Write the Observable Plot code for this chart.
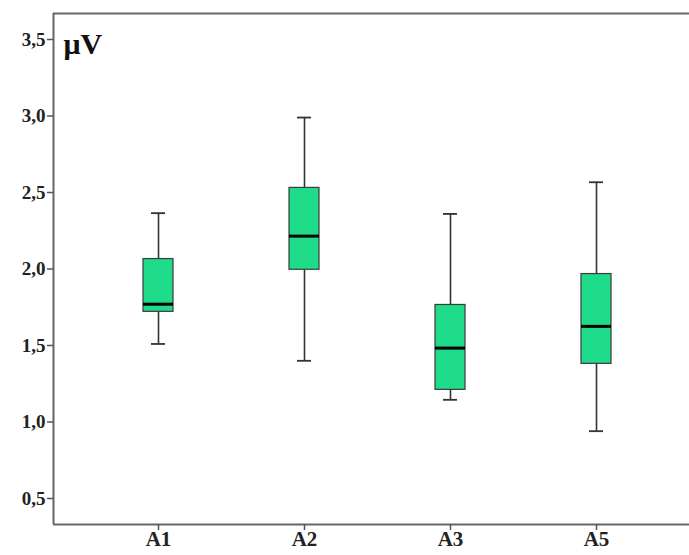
<!DOCTYPE html>
<html>
<head>
<meta charset="utf-8">
<script src="https://cdn.jsdelivr.net/npm/d3@7"></script>
<script src="https://cdn.jsdelivr.net/npm/@observablehq/plot@0.6"></script>
<style>
  html, body { margin: 0; padding: 0; background: #fff; overflow: hidden; }
  #chart svg { display: block; }
</style>
</head>
<body>
<div id="chart"></div>
<script>
const categories = ["A1", "A2", "A3", "A5"];
const whiskerLow = [1.51, 1.40, 1.145, 0.94];
const q1 = [1.72, 1.995, 1.21, 1.38];
const median = [1.77, 2.215, 1.483, 1.625];
const q3 = [2.065, 2.53, 1.765, 1.967];
const whiskerHigh = [2.365, 2.99, 2.36, 2.567];
const yTicks = [0.5, 1.0, 1.5, 2.0, 2.5, 3.0, 3.5];
const yDomain = [0.33, 3.67];
const unitLabel = "μV";

const rows = categories.map((c, i) => ({
  cat: c, lo: whiskerLow[i], q1: q1[i], med: median[i], q3: q3[i], hi: whiskerHigh[i]
}));

const fmt = d => d.toFixed(1).replace(".", ",");

const W = 689, ML = 53, MR = 30;

const chart = Plot.plot({
  width: W,
  height: 555,
  marginLeft: ML,
  marginRight: MR,
  marginTop: 13,
  marginBottom: 31,
  style: { fontFamily: "'Liberation Serif', serif", fontWeight: "bold", fontSize: "19px", color: "#222", background: "#fff" },
  x: { type: "band", domain: categories, range: [53, 701], paddingInner: 0.795, paddingOuter: 0.616, label: null },
  y: { domain: yDomain, label: null },
  marks: [
    Plot.ruleX(rows, { x: "cat", y1: "lo", y2: "q1", stroke: "#333", strokeWidth: 1.6 }),
    Plot.ruleX(rows, { x: "cat", y1: "q3", y2: "hi", stroke: "#333", strokeWidth: 1.6 }),
    Plot.tickY(rows, { x: "cat", y: "lo", stroke: "#333", strokeWidth: 1.8, inset: 8 }),
    Plot.tickY(rows, { x: "cat", y: "hi", stroke: "#333", strokeWidth: 1.8, inset: 8 }),
    Plot.barY(rows, { x: "cat", y1: "q1", y2: "q3", fill: "#1fdc8a", stroke: "#3a3a3a", strokeWidth: 1.2 }),
    Plot.tickY(rows, { x: "cat", y: "med", stroke: "#000", strokeWidth: 3 }),
    Plot.ruleY([yDomain[1]], { stroke: "#666", strokeWidth: 2, insetRight: -MR }),
    Plot.ruleY([yDomain[0]], { stroke: "#666", strokeWidth: 2, insetRight: -MR }),
    Plot.ruleX([0], { x: null, y1: yDomain[0], y2: yDomain[1], dx: -(W - ML - MR) / 2, stroke: "#666", strokeWidth: 2 }),
    Plot.axisY({ ticks: yTicks, tickFormat: fmt, tickSize: 6, tickPadding: 2, stroke: "#555", strokeWidth: 1.5, fontSize: 19, fill: "#222", style: { letterSpacing: "1px" } }),
    Plot.axisX({ tickSize: 6, tickPadding: 1, stroke: "#555", strokeWidth: 1.5, fontSize: 21, fill: "#222" }),
    Plot.text([unitLabel], { frameAnchor: "top-left", dx: 10, dy: 19, text: d => d, fontSize: 30, fontWeight: "bold", fill: "#111", textAnchor: "start", lineAnchor: "top" })
  ]
});
document.getElementById("chart").appendChild(chart);
</script>
</body>
</html>
